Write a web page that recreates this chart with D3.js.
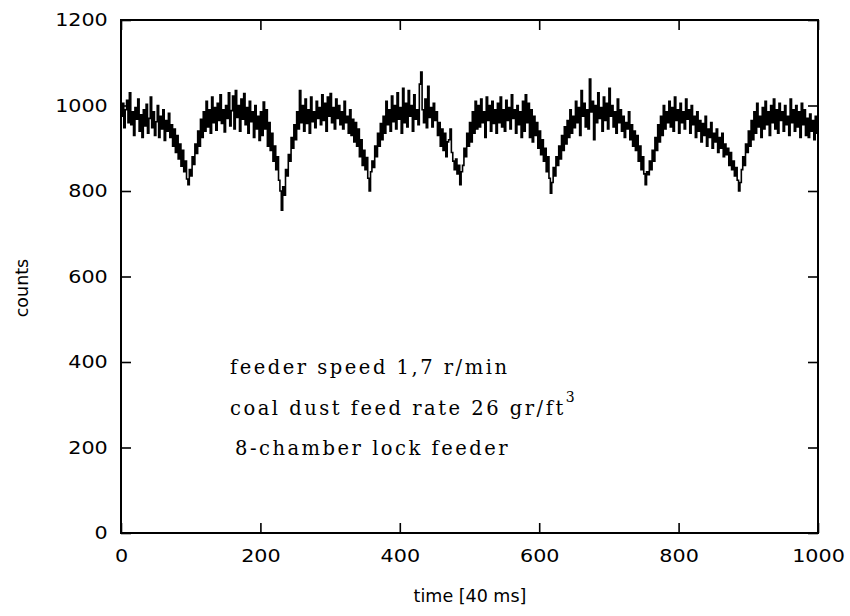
<!DOCTYPE html>
<html>
<head>
<meta charset="utf-8">
<script src="https://cdn.jsdelivr.net/npm/d3@7"></script>
<style>
  html, body { margin: 0; padding: 0; background: #fff; }
  svg { display: block; }
  .tick text { font-family: "DejaVu Sans", sans-serif; font-size: 18px; fill: #000; }
  .axis-title { font-family: "DejaVu Sans", sans-serif; font-size: 17.5px; fill: #000; }
  .note { font-family: "DejaVu Serif", serif; font-size: 19.5px; letter-spacing: 2.5px; fill: #000; }
</style>
</head>
<body>
<svg id="chart" width="850" height="616"></svg>
<script>
// Detector counts sampled every 2 time units (1 unit = 40 ms)
const sampleStep = 2;
const counts = [
  975,1005,948,990,1012,960,1030,955,985,930,995,968,1015,940,978,925,990,952,1003,935,970,1020,948,985,930,
  962,1000,925,975,945,990,918,965,940,982,925,955,905,945,890,930,875,910,858,895,845,870,828,815,850,
  835,880,862,910,888,940,905,968,925,985,940,1010,950,990,935,1020,960,995,942,1005,965,1025,958,990,938,
  1000,970,1030,952,988,1022,945,1035,972,1000,940,1015,968,1028,955,995,935,1010,962,985,925,1000,945,975,918,
  985,930,1008,945,990,905,960,895,935,870,905,850,880,825,800,755,810,790,850,835,885,870,925,900,955,
  920,985,945,1035,960,1000,940,1015,958,990,935,1020,962,985,948,1010,970,995,955,1025,965,1005,940,1020,975,
  1028,960,995,945,1015,970,1000,955,985,945,1010,960,975,935,990,930,968,915,960,905,945,880,920,860,895,
  850,878,830,800,845,870,855,905,880,935,905,958,920,975,935,1010,955,990,940,1022,962,1000,945,1030,968,
  995,935,1040,960,1005,950,1035,975,1000,940,1025,968,990,955,1050,1078,990,960,1015,948,1045,972,995,950,1005,
  965,985,930,960,905,945,895,935,880,915,920,945,890,870,850,875,840,860,815,845,860,900,880,935,905,
  960,915,985,935,1010,945,1000,950,1015,960,985,925,1020,965,1000,940,1010,958,990,935,1005,960,1020,950,990,
  940,1012,965,995,945,1025,970,990,935,1000,955,985,925,1010,940,1025,960,1005,925,990,915,975,930,960,900,
  940,885,920,870,900,845,880,830,795,820,855,835,880,860,905,875,930,895,950,910,965,925,990,935,975,
  948,1010,960,995,930,1035,975,1005,950,990,945,1062,985,1010,920,1000,960,1030,970,995,940,1020,965,1005,945,
  1040,975,1000,950,985,935,1015,960,990,940,975,925,960,945,985,920,955,905,940,895,930,870,905,850,880,
  840,815,845,838,870,850,895,870,925,895,955,915,975,930,1000,945,985,960,1010,950,995,940,1020,965,990,
  935,1005,960,985,945,1015,968,990,935,1000,955,975,925,985,940,965,915,958,930,975,905,945,925,960,900,
  935,915,945,890,925,900,935,880,910,885,900,860,890,850,870,835,855,825,800,820,850,880,860,910,890,
  940,905,965,920,985,935,1005,950,975,925,995,945,1010,955,985,930,1000,960,1015,945,990,935,1005,965,985,
  940,1000,955,975,930,1015,960,990,940,1000,950,985,925,1005,955,990,930,970,925,980,940,965,920,975,935,
  960
];
const times = counts.map((_, i) => i * sampleStep);

const xTicks = [0, 200, 400, 600, 800, 1000];
const yTicks = [0, 200, 400, 600, 800, 1000, 1200];
const xTitle = "time [40 ms]";
const yTitle = "counts";
const notes = ["feeder speed 1,7 r/min", "coal dust feed rate 26 gr/ft", "8-chamber lock feeder"];

const svg = d3.select("#chart");
const plotLeft = 121, plotRight = 818, plotTop = 20, plotBottom = 533;

const x = d3.scaleLinear().domain([0, 1000]).range([plotLeft, plotRight]);
const y = d3.scaleLinear().domain([0, 1200]).range([plotBottom, plotTop]);

// Data trace drawn as a step line
const line = d3.line()
  .x((d, i) => x(times[i]))
  .y(d => y(d))
  .curve(d3.curveStepAfter);

svg.append("path")
  .datum(counts)
  .attr("fill", "none")
  .attr("stroke", "#000")
  .attr("stroke-width", 1.6)
  .attr("stroke-linejoin", "miter")
  .attr("d", line);

// Axes with inward ticks on all four sides
function styleAxis(g) {
  g.select(".domain").remove();
  g.selectAll(".tick line").attr("stroke", "#000").attr("stroke-width", 1.6);
}
// Wide plotter-style digits
function widenLabels(g) {
  g.selectAll(".tick text").attr("transform", "scale(1.15,1)");
}

svg.append("g")
  .attr("transform", `translate(0,${plotBottom})`)
  .call(d3.axisBottom(x).tickValues(xTicks).tickFormat(d3.format("d")).tickSizeInner(-10).tickSizeOuter(0).tickPadding(16))
  .call(styleAxis)
  .call(widenLabels);

svg.append("g")
  .attr("transform", `translate(0,${plotTop})`)
  .call(d3.axisTop(x).tickValues(xTicks).tickFormat("").tickSizeInner(-10).tickSizeOuter(0))
  .call(styleAxis);

svg.append("g")
  .attr("transform", `translate(${plotLeft},0)`)
  .call(d3.axisLeft(y).tickValues(yTicks).tickFormat(d3.format("d")).tickSizeInner(-10).tickSizeOuter(0).tickPadding(11.5))
  .call(styleAxis)
  .call(widenLabels);

svg.append("g")
  .attr("transform", `translate(${plotRight},0)`)
  .call(d3.axisRight(y).tickValues(yTicks).tickFormat("").tickSizeInner(-10).tickSizeOuter(0))
  .call(styleAxis);

// Plot frame
svg.append("rect")
  .attr("x", plotLeft).attr("y", plotTop)
  .attr("width", plotRight - plotLeft).attr("height", plotBottom - plotTop)
  .attr("fill", "none").attr("stroke", "#000").attr("stroke-width", 2);

// Axis titles
svg.append("text").attr("class", "axis-title")
  .attr("x", 470).attr("y", 602)
  .attr("text-anchor", "middle").text(xTitle);

svg.append("text").attr("class", "axis-title")
  .attr("transform", "translate(28,288) rotate(-90)")
  .attr("text-anchor", "middle").text(yTitle);

// Run conditions
const noteX = [230, 230, 235];
const noteY = [374, 415, 455];
notes.forEach((t, i) => {
  const txt = svg.append("text").attr("class", "note")
    .attr("x", noteX[i]).attr("y", noteY[i]).text(t);
  if (i === 1) {
    txt.append("tspan").attr("dy", -13).attr("font-size", 14).attr("letter-spacing", 0).text("3");
  }
});
</script>
</body>
</html>
